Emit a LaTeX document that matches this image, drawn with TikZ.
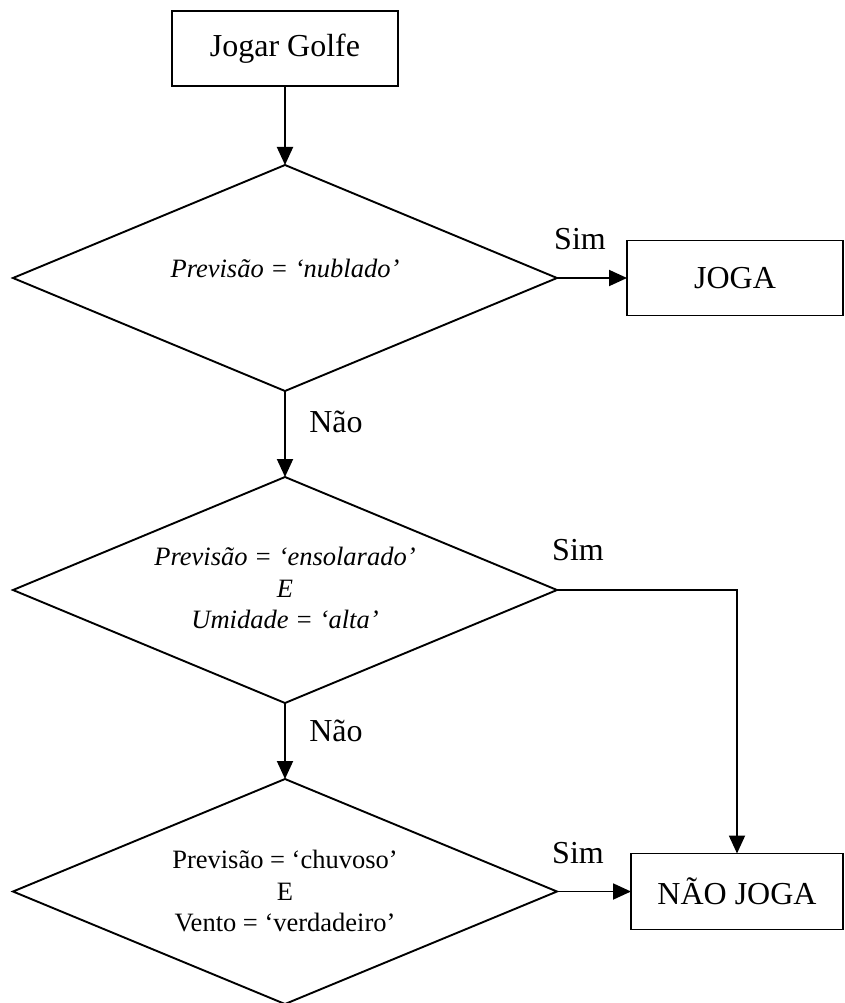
\documentclass[tikz,border=0pt]{standalone}
\usepackage{fontspec}
\setmainfont{Liberation Serif}
\usetikzlibrary{shapes.geometric,arrows.meta}
\begin{document}
\begin{tikzpicture}[x=1pt,y=-1pt,
  line width=1.9pt,
  bigfont/.style={font=\fontsize{32}{38.4}\selectfont},
  smallfont/.style={font=\fontsize{26.5}{31.8}\selectfont},
  boxnode/.style={draw,rectangle,inner sep=0pt,outer sep=0pt,bigfont},
  decision/.style={draw,diamond,inner sep=0pt,outer sep=0pt,minimum width=544pt,minimum height=226pt},
  arr/.style={-{Triangle[length=18pt,width=16pt]}},
  lbl/.style={inner sep=0pt,bigfont},
  dtext/.style={inner sep=0pt,smallfont,align=center}
]
\useasboundingbox (0,0) rectangle (845,1003);
\node[boxnode,minimum width=226pt,minimum height=75pt] (start) at (285,48.5) {Jogar Golfe};
\node[decision] (d1) at (285,278) {};
\node[decision] (d2) at (285,590) {};
\node[decision,minimum height=225pt] (d3) at (285,891.5) {};
\node[boxnode,minimum width=216pt,minimum height=75pt] (joga) at (735,278) {JOGA};
\node[boxnode,minimum width=212pt,minimum height=76pt] (nao) at (737,891.5) {NÃO JOGA};

\node[dtext] (t1) at (285,268) {\itshape Previsão = ‘nublado’};
\node[dtext] (t2) at (285,588) {\itshape Previsão = ‘ensolarado’\\ \itshape E\\ \itshape Umidade = ‘alta’};
\node[dtext] (t3) at (285,891) {Previsão = ‘chuvoso’\\E\\Vento = ‘verdadeiro’};

\draw[arr] (start.south) -- (d1.north);
\draw[arr] (d1.east) -- (joga.west);
\draw[arr] (d1.south) -- (d2.north);
\draw[arr] (d2.south) -- (d3.north);
\draw[arr] (d2.east) -| (nao.north);
\draw[arr] (d3.east) -- (nao.west);

\node[lbl] (s1) at (580,239) {Sim};
\node[lbl] (s2) at (578,550) {Sim};
\node[lbl] (s3) at (578,853) {Sim};
\node[lbl] (n1) at (336,422) {Não};
\node[lbl] (n2) at (336,731) {Não};
\end{tikzpicture}
\end{document}
